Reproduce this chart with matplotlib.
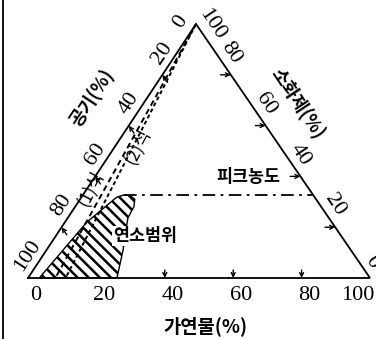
import matplotlib.pyplot as plt
from matplotlib.patches import Polygon

plt.rcParams['font.family'] = ['Liberation Serif', 'Noto Sans CJK KR']
plt.rcParams['hatch.linewidth'] = 1.8

# 눈금 값 (%)
tick_values = [0, 20, 40, 60, 80, 100]
bottom_ticks = [40, 60, 80]

# 연소범위 경계 (가연물 %, 소화제 %)
region_fuel = [3.3, 6.4, 8.8, 10.3, 12.0, 13.8, 16.0, 17.2, 17.6, 22.4, 26.0]
region_agent = [0.0, 22.0, 28.0, 31.8, 32.7, 32.5, 31.0, 28.0, 23.6, 11.0, 0.0]

# 피크농도 (소화제 %)
peak_agent = 32.7
peak_fuel = 12.0

# (1)식, (2)식 : 소화제 100% 에서 가연물 축까지
line1_fuel = 8.0
line2_fuel = 11.0

# 삼각형 꼭짓점 (그림 픽셀 좌표)
A = (28, 278)   # 공기 100
F = (370, 278)  # 가연물 100
S = (196, 24)   # 소화제 100

KR = ['Noto Sans CJK KR']


def to_xy(fuel, agent):
    air = 100 - fuel - agent
    x = (air * A[0] + fuel * F[0] + agent * S[0]) / 100
    y = (air * A[1] + fuel * F[1] + agent * S[1]) / 100
    return x, y


fig = plt.figure(figsize=(3.76, 3.39), dpi=100)
ax = fig.add_axes([0, 0, 1, 1])
ax.set_xlim(0, 376)
ax.set_ylim(339, 0)
ax.axis('off')

# 테두리 (왼쪽 세로선)
ax.axvline(3, color='black', lw=1.3)

# 삼각형
tri = [to_xy(0, 0), to_xy(100, 0), to_xy(0, 100), to_xy(0, 0)]
ax.plot([p[0] for p in tri], [p[1] for p in tri], color='black', lw=1.3,
        solid_joinstyle='miter', zorder=3)

# 연소범위
pts = [to_xy(f, s) for f, s in zip(region_fuel, region_agent)]
ax.add_patch(Polygon(pts, closed=True, facecolor='white', edgecolor='black',
                     hatch='\\\\\\', lw=1.0, zorder=2))

# 피크농도 선
p0 = to_xy(peak_fuel, peak_agent)
p1 = to_xy(100 - peak_agent, peak_agent)
ax.plot([p0[0], p1[0]], [p0[1], p1[1]], color='black', lw=1.3,
        dashes=(7, 3, 1.5, 3), zorder=3)

# (1)식, (2)식 선
for lf, ds in [(line1_fuel, (3, 2)), (line2_fuel, (2, 1.5))]:
    q0 = to_xy(0, 100)
    q1 = to_xy(lf, 0)
    ax.plot([q0[0], q1[0]], [q0[1], q1[1]], color='black', lw=1.4,
            dashes=ds, zorder=4)

# 눈금 (화살표)
arrow = dict(arrowstyle='->', color='black', lw=1.0, shrinkA=0, shrinkB=0,
             mutation_scale=7)
d = 3
for v in tick_values[1:-1]:
    ax.annotate('', xy=to_xy(0, 100 - v), xytext=to_xy(d, 100 - v - d),
                arrowprops=arrow, zorder=5)
    ax.annotate('', xy=to_xy(100 - v, v), xytext=to_xy(100 - v - d, v),
                arrowprops=arrow, zorder=5)
for v in bottom_ticks:
    tx, ty = to_xy(v, 0)
    ax.annotate('', xy=(tx, ty), xytext=(0, 8), textcoords='offset pixels',
                arrowprops=arrow, zorder=5)

# 눈금 라벨
fs = 16
for v in tick_values:
    # 가연물 (아래)
    dx = -12 if v == 100 else 8
    ax.annotate(str(v), xy=to_xy(v, 0), xytext=(dx, -17),
                textcoords='offset pixels', ha='center', va='center',
                fontsize=fs)
    # 공기 (왼쪽)
    off = (-16, 2) if v == 0 else (0, 22)
    ax.annotate(str(v), xy=to_xy(0, 100 - v), xytext=off,
                textcoords='offset pixels', ha='center', va='center',
                fontsize=fs, rotation=56.5)
    # 소화제 (오른쪽)
    if v == 100:
        off = (16, 0)
    elif v == 0:
        off = (2, 16)
    else:
        off = (0, 22)
    ax.annotate(str(v), xy=to_xy(100 - v, v), xytext=off,
                textcoords='offset pixels', ha='center', va='center',
                fontsize=fs, rotation=-56.5)

# 축 제목
ax.text(205, 326, '가연물(%)', ha='center', va='center', fontsize=13.5,
        family=KR, fontweight='bold')
ax.text(92, 98, '공기(%)', ha='center', va='center', fontsize=13,
        family=KR, fontweight='bold', rotation=56.5)
ax.text(298, 103, '소화제(%)', ha='center', va='center', fontsize=13,
        family=KR, fontweight='bold', rotation=-56.5)

# 기타 라벨
ax.text(248, 177, '피크농도', ha='center', va='center', fontsize=12.5,
        family=KR, fontweight='bold')
ax.text(145, 236, '연소범위', ha='center', va='center', fontsize=12.5,
        family=KR, fontweight='bold', zorder=6,
        bbox=dict(facecolor='white', edgecolor='none', pad=0.5))
ax.text(90, 188, '(1)식', ha='center', va='center', fontsize=12.5,
        family=KR, rotation=62, zorder=6)
ax.text(137, 146, '(2)식', ha='center', va='center', fontsize=12.5,
        family=KR, rotation=62, zorder=6)

fig.savefig('out.png', dpi=100)
